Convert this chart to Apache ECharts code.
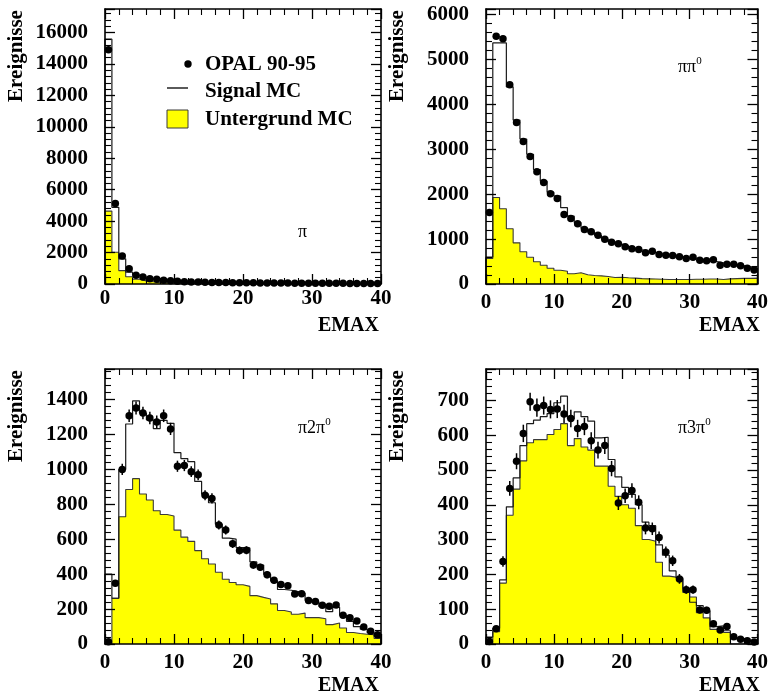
<!DOCTYPE html>
<html>
<head>
<meta charset="utf-8">
<script src="https://cdn.jsdelivr.net/npm/echarts@6.0.0/dist/echarts.min.js"></script>
<style>
  html, body { margin: 0; padding: 0; background: #ffffff; }
  #chart { width: 771px; height: 693px; }
</style>
</head>
<body>
<div id="chart"></div>
<script>
// EMAX bins: lower edges of the 40 unit-wide bins (0..40)
const binLow = [0, 1, 2, 3, 4, 5, 6, 7, 8, 9, 10, 11, 12, 13, 14, 15, 16, 17, 18, 19,
                20, 21, 22, 23, 24, 25, 26, 27, 28, 29, 30, 31, 32, 33, 34, 35, 36, 37, 38, 39];
const binWidth = 1;

// ---- pi channel ----
const piData = [14900, 5130, 1780, 970, 555, 445, 340, 300, 240, 200, 170, 150, 130, 120, 110, 100, 95, 90, 85, 80,
                75, 72, 70, 66, 62, 60, 58, 55, 52, 50, 48, 46, 44, 42, 40, 38, 36, 34, 32, 30];
const piSignalMC = [15580, 4880, 1600, 750, 560, 440, 340, 290, 230, 190, 160, 140, 125, 115, 105, 98, 92, 88, 82, 78,
                    74, 70, 68, 64, 60, 58, 56, 54, 50, 48, 46, 44, 42, 40, 38, 36, 34, 32, 30, 28];
const piBackgroundMC = [4640, 2020, 850, 460, 300, 200, 140, 100, 70, 55, 45, 38, 32, 28, 25, 22, 20, 18, 16, 15,
                        14, 13, 12, 11, 10, 10, 9, 9, 8, 8, 7, 7, 6, 6, 6, 5, 5, 5, 5, 5];

// ---- pi pi0 channel ----
const pipi0Data = [1590, 5520, 5460, 4436, 3597, 3174, 2840, 2499, 2261, 2009, 1904, 1548, 1459, 1341, 1214, 1163, 1087, 998, 931, 895,
                   828, 784, 768, 694, 731, 657, 642, 635, 605, 568, 597, 530, 516, 539, 419, 441, 441, 405, 352, 310];
const pipi0SignalMC = [600, 5370, 5370, 4390, 3650, 3230, 2890, 2550, 2290, 2045, 1960, 1700, 1510, 1370, 1240, 1150, 1080, 1000, 940, 890,
                       850, 800, 760, 730, 700, 670, 645, 620, 600, 580, 560, 540, 520, 500, 470, 450, 430, 410, 380, 350];
const pipi0BackgroundMC = [568, 1927, 1675, 1229, 917, 717, 597, 494, 419, 352, 307, 285, 227, 249, 205, 189, 182, 167, 145, 152,
                           140, 130, 120, 115, 110, 105, 100, 100, 100, 100, 105, 105, 110, 110, 100, 115, 120, 125, 125, 130];

// ---- pi 2pi0 channel ----
const pi2pi0Data = [13, 348, 1000, 1307, 1352, 1323, 1294, 1272, 1307, 1232, 1018, 1022, 987, 969, 852, 834, 682, 653, 574, 536,
                    537, 452, 439, 396, 365, 341, 333, 286, 288, 249, 243, 222, 216, 224, 164, 151, 132, 98, 73, 53];
const pi2pi0Errors = [4, 19, 32, 36, 37, 36, 36, 36, 36, 35, 32, 32, 31, 31, 29, 29, 26, 26, 24, 23,
                      23, 21, 21, 20, 19, 18, 18, 17, 17, 16, 16, 15, 15, 15, 13, 12, 11, 10, 9, 7];
const pi2pi0SignalMC = [400, 262, 1000, 1260, 1392, 1322, 1284, 1234, 1281, 1264, 1096, 1062, 1044, 931, 858, 809, 686, 606, 601, 552,
                        550, 470, 452, 399, 362, 312, 308, 300, 290, 250, 240, 215, 185, 210, 165, 130, 100, 85, 65, 45];
const pi2pi0BackgroundMC = [0, 262, 729, 885, 947, 859, 825, 763, 742, 733, 652, 612, 588, 535, 488, 458, 411, 371, 352, 339,
                            330, 277, 267, 258, 230, 192, 183, 170, 177, 151, 151, 145, 111, 120, 92, 66, 60, 56, 53, 32];

// ---- pi 3pi0 channel ----
const pi3pi0Data = [7, 44, 237, 447, 525, 605, 696, 679, 685, 674, 675, 661, 648, 619, 625, 584, 557, 570, 504, 405,
                    426, 441, 407, 333, 331, 306, 264, 239, 187, 156, 156, 98, 97, 58, 40, 50, 21, 14, 9, 6];
const pi3pi0Errors = [3, 7, 15, 21, 23, 25, 26, 26, 26, 26, 26, 26, 25, 25, 25, 24, 24, 24, 22, 20,
                      21, 21, 20, 18, 18, 17, 16, 15, 14, 12, 12, 10, 10, 8, 6, 7, 5, 4, 3, 2];
const pi3pi0SignalMC = [20, 45, 184, 394, 477, 570, 633, 643, 653, 662, 693, 712, 647, 667, 653, 640, 592, 594, 530, 480,
                        450, 430, 400, 350, 340, 285, 255, 210, 190, 160, 120, 110, 95, 50, 52, 38, 18, 12, 8, 4];
const pi3pi0BackgroundMC = [0, 35, 175, 370, 445, 526, 578, 587, 587, 602, 616, 633, 570, 590, 566, 557, 511, 511, 453, 424,
                            400, 390, 340, 300, 295, 235, 195, 192, 187, 148, 135, 90, 75, 42, 40, 33, 0, 0, 0, 0];

// Legend entries and axis titles
const legendLabels = ['OPAL 90-95', 'Signal MC', 'Untergrund MC'];
const yAxisTitle = 'Ereignisse';
const xAxisTitle = 'EMAX';

// Panel layout (pixel frames) and axis ranges
const panels = [
  { left: 105, top: 9,   yMax: 17500, yStep: 2000, xMargin: 4,
    data: piData, errors: null, signal: piSignalMC, background: piBackgroundMC,
    channel: '{b|π}', chanX: 298, chanY: 231 },
  { left: 486, top: 9,   yMax: 6125,  yStep: 1000, xMargin: 8,
    data: pipi0Data, errors: null, signal: pipi0SignalMC, background: pipi0BackgroundMC,
    channel: '{b|ππ}{s|0}', chanX: 678, chanY: 66 },
  { left: 105, top: 369, yMax: 1575,  yStep: 200,  xMargin: 8,
    data: pi2pi0Data, errors: pi2pi0Errors, signal: pi2pi0SignalMC, background: pi2pi0BackgroundMC,
    channel: '{b|π2π}{s|0}', chanX: 298, chanY: 427 },
  { left: 486, top: 369, yMax: 790,   yStep: 100,  xMargin: 8,
    data: pi3pi0Data, errors: pi3pi0Errors, signal: pi3pi0SignalMC, background: pi3pi0BackgroundMC,
    channel: '{b|π3π}{s|0}', chanX: 678, chanY: 427 }
];
const frameW = 276, frameH = 275;

const serifBold = { fontFamily: 'Liberation Serif', fontWeight: 'bold', color: '#000' };
const plainNumber = v => String(v);

// Histogram outline as a closed step path: up at 0, across each bin, down at 40
function stepPath(values) {
  const pts = [[binLow[0], 0]];
  values.forEach((v, i) => pts.push([binLow[i], v]));
  pts.push([binLow[binLow.length - 1] + binWidth, values[values.length - 1]]);
  pts.push([binLow[binLow.length - 1] + binWidth, 0]);
  return pts;
}

const grids = [], xAxes = [], yAxes = [], series = [], graphics = [];

panels.forEach((p, gi) => {
  grids.push({ left: p.left, top: p.top, width: frameW, height: frameH, containLabel: false });

  const tickCommon = {
    axisTick: { show: true, inside: true, length: 10, lineStyle: { color: '#000', width: 1.3 } },
    minorTick: { show: true, splitNumber: 5, length: 6, lineStyle: { color: '#000', width: 1.1 } },
    axisLine: { show: true, onZero: false, lineStyle: { color: '#000', width: 1.6 } },
    splitLine: { show: false },
    z: 10
  };

  // bottom + top x axes
  xAxes.push(Object.assign({
    gridIndex: gi, type: 'value', position: 'bottom', min: 0, max: 40, interval: 10,
    axisLabel: Object.assign({ show: true, fontSize: 21, margin: p.xMargin, formatter: plainNumber }, serifBold)
  }, tickCommon));
  xAxes.push(Object.assign({
    gridIndex: gi, type: 'value', position: 'top', min: 0, max: 40, interval: 10,
    axisLabel: { show: false }
  }, tickCommon));

  // left + right y axes
  yAxes.push(Object.assign({
    gridIndex: gi, type: 'value', position: 'left', min: 0, max: p.yMax, interval: p.yStep,
    axisLabel: Object.assign({ show: true, fontSize: 21, margin: 17, showMaxLabel: false, formatter: plainNumber }, serifBold)
  }, tickCommon));
  yAxes.push(Object.assign({
    gridIndex: gi, type: 'value', position: 'right', min: 0, max: p.yMax, interval: p.yStep,
    axisLabel: { show: false }
  }, tickCommon));

  const xi = gi * 2, yi = gi * 2;

  // background MC (filled yellow histogram)
  series.push({
    type: 'line', xAxisIndex: xi, yAxisIndex: yi, step: 'end', symbol: 'none',
    data: stepPath(p.background),
    lineStyle: { color: '#3a3a3a', width: 1.1 },
    areaStyle: { color: '#ffff00', opacity: 1 },
    z: 2, silent: true
  });
  // signal MC (open histogram)
  series.push({
    type: 'line', xAxisIndex: xi, yAxisIndex: yi, step: 'end', symbol: 'none',
    data: stepPath(p.signal),
    lineStyle: { color: '#1a1a1a', width: 1.2 },
    z: 3, silent: true
  });
  // statistical error bars on data
  if (p.errors) {
    const errs = p.errors;
    series.push({
      type: 'custom', xAxisIndex: xi, yAxisIndex: yi, z: 4, silent: true,
      data: p.data.map((v, i) => [binLow[i] + binWidth / 2, v, errs[i]]),
      renderItem: function (params, api) {
        const x = api.value(0), y = api.value(1), e = api.value(2);
        const a = api.coord([x, y - e]), b = api.coord([x, y + e]);
        return { type: 'line', shape: { x1: a[0], y1: a[1], x2: b[0], y2: b[1] },
                 style: { stroke: '#000', lineWidth: 1.5 } };
      }
    });
  }
  // data points
  series.push({
    type: 'scatter', xAxisIndex: xi, yAxisIndex: yi, symbol: 'circle', symbolSize: 7.5,
    data: p.data.map((v, i) => [binLow[i] + binWidth / 2, v]),
    itemStyle: { color: '#000', opacity: 1 }, z: 5, silent: true
  });

  // axis titles
  graphics.push({
    type: 'text', x: p.left - 88, y: p.top + 47, rotation: Math.PI / 2,
    style: { text: yAxisTitle, fontSize: 21, align: 'center', verticalAlign: 'middle', fill: '#000',
             fontFamily: 'Liberation Serif', fontWeight: 'bold' }
  });
  graphics.push({
    type: 'text', x: p.left + frameW - 2, y: p.top + frameH + 42,
    style: { text: xAxisTitle, fontSize: 20, align: 'right', verticalAlign: 'middle', fill: '#000',
             fontFamily: 'Liberation Serif', fontWeight: 'bold' }
  });
  // decay channel label
  graphics.push({
    type: 'text', x: p.chanX, y: p.chanY, z: 20,
    style: {
      text: p.channel, align: 'left', verticalAlign: 'middle',
      rich: {
        b: { fontFamily: 'Liberation Serif', fontSize: 18, lineHeight: 20, fill: '#000', verticalAlign: 'bottom' },
        s: { fontFamily: 'Liberation Serif', fontSize: 11, lineHeight: 20, fill: '#000', verticalAlign: 'top' }
      }
    }
  });
});

// Legend in the first panel
graphics.push({ type: 'circle', shape: { cx: 188, cy: 64, r: 3.7 }, style: { fill: '#000' }, z: 20 });
graphics.push({ type: 'line', shape: { x1: 167, y1: 88, x2: 188, y2: 88 }, style: { stroke: '#000', lineWidth: 1.3 }, z: 20 });
graphics.push({ type: 'rect', shape: { x: 167, y: 110, width: 21, height: 18 }, style: { fill: '#ffff00', stroke: '#3a3a3a', lineWidth: 1 }, z: 20 });
[65, 92, 120].forEach((yy, i) => {
  graphics.push({
    type: 'text', x: 205, y: yy, z: 20,
    style: { text: legendLabels[i], fontSize: 21, fontFamily: 'Liberation Serif', fontWeight: 'bold',
             fill: '#000', align: 'left', verticalAlign: 'middle' }
  });
});

const chart = echarts.init(document.getElementById('chart'), null, { renderer: 'canvas' });
chart.setOption({
  backgroundColor: '#ffffff',
  animation: false,
  grid: grids,
  xAxis: xAxes,
  yAxis: yAxes,
  series: series,
  graphic: graphics
});
</script>
</body>
</html>
